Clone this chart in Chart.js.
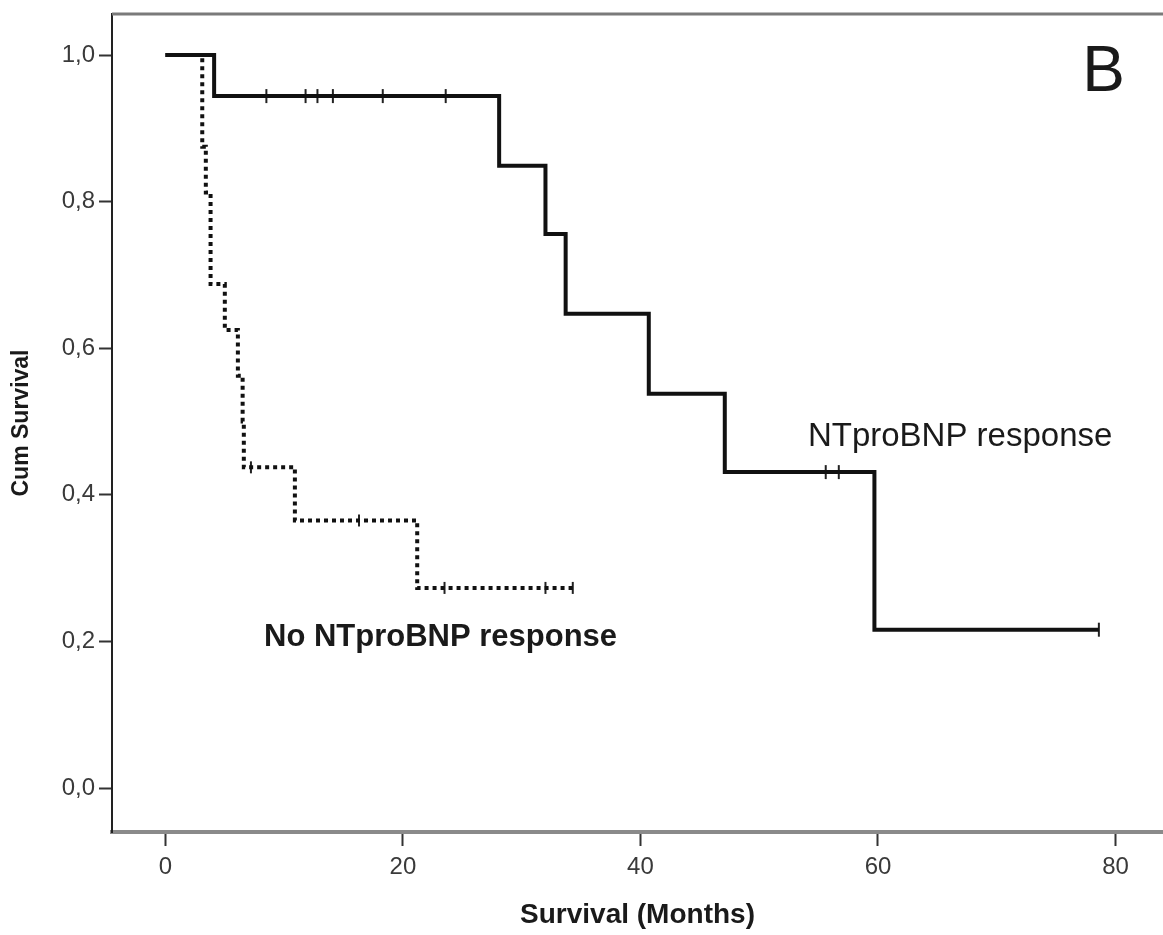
<!DOCTYPE html>
<html>
<head>
<meta charset="utf-8">
<script src="https://cdn.jsdelivr.net/npm/chart.js@4.4.1/dist/chart.umd.min.js"></script>
<style>
  html, body { margin: 0; padding: 0; background: #fff; overflow: hidden; }
  canvas { display: block; }
</style>
</head>
<body>
<canvas id="km" width="1163" height="935"></canvas>
<script>
// Kaplan-Meier, NTproBNP response (solid)
const respTimes = [0, 4.1, 28.1, 32.0, 33.7, 40.7, 47.1, 59.7, 78.6];
const respSurv  = [1.0, 0.944, 0.849, 0.756, 0.647, 0.538, 0.431, 0.216, 0.216];
const respCensor = [8.5, 11.8, 12.8, 14.1, 18.3, 23.6, 55.6, 56.7, 78.6];

// No NTproBNP response (dotted)
const noTimes = [0, 3.1, 3.4, 3.8, 5.0, 6.1, 6.5, 6.6, 10.9, 21.2, 34.3];
const noSurv  = [1.0, 0.875, 0.8125, 0.6875, 0.625, 0.5625, 0.5, 0.4375, 0.365, 0.273, 0.273];
const noCensor = [7.2, 16.3, 23.5, 32.0, 34.3];

const xTicks = [0, 20, 40, 60, 80];
const yTicks = [0, 0.2, 0.4, 0.6, 0.8, 1.0];

const notes = [
  { text: 'NTproBNP response', x: 54.1, y: 0.479, font: '33px "Liberation Sans", Arial, sans-serif' },
  { text: 'No NTproBNP response', x: 8.3, y: 0.206, font: 'bold 31px "Liberation Sans", Arial, sans-serif' },
  { text: 'B', x: 79.0, y: 0.975, font: '64px "Liberation Sans", Arial, sans-serif', center: true }
];

function survAt(times, surv, t) {
  let v = surv[0];
  for (let i = 0; i < times.length; i++) if (times[i] <= t) v = surv[i];
  return v;
}
function pts(times, surv) { return times.map((t, i) => ({ x: t, y: surv[i] })); }
function censorPts(c, times, surv) { return c.map(t => ({ x: t, y: survAt(times, surv, t) })); }

function noPad(s) {
  s.paddingLeft = 0; s.paddingRight = 0; s.paddingTop = 0; s.paddingBottom = 0;
}

const frame = {
  id: 'frame',
  afterDraw(chart) {
    const a = chart.chartArea, ctx = chart.ctx;
    ctx.save();
    ctx.strokeStyle = '#7a7a7a';
    ctx.lineWidth = 3;
    ctx.beginPath();
    ctx.moveTo(a.left, a.top);
    ctx.lineTo(chart.width, a.top);
    ctx.stroke();
    ctx.restore();
  }
};

const textNotes = {
  id: 'textNotes',
  afterDatasetsDraw(chart) {
    const ctx = chart.ctx, xs = chart.scales.x, ys = chart.scales.y;
    ctx.save();
    ctx.fillStyle = '#1a1a1a';
    ctx.textBaseline = 'middle';
    notes.forEach(n => {
      ctx.font = n.font;
      ctx.textAlign = n.center ? 'center' : 'left';
      ctx.fillText(n.text, xs.getPixelForValue(n.x), ys.getPixelForValue(n.y));
    });
    ctx.restore();
  }
};

const tickFont = { family: '"Liberation Sans", Arial, sans-serif', size: 24 };

new Chart(document.getElementById('km'), {
  type: 'line',
  data: {
    datasets: [
      {
        label: 'NTproBNP response',
        data: pts(respTimes, respSurv),
        stepped: 'before',
        borderColor: '#111',
        borderWidth: 4,
        pointRadius: 0,
        fill: false
      },
      {
        label: 'No NTproBNP response',
        data: pts(noTimes, noSurv),
        stepped: 'before',
        borderColor: '#111',
        borderWidth: 4,
        borderDash: [4, 4],
        borderCapStyle: 'butt',
        pointRadius: 0,
        fill: false
      },
      {
        label: 'censored response',
        type: 'scatter',
        data: censorPts(respCensor, respTimes, respSurv),
        pointStyle: 'line',
        rotation: 90,
        pointRadius: 7,
        borderColor: '#222',
        borderWidth: 2,
        showLine: false
      },
      {
        label: 'censored no response',
        type: 'scatter',
        data: censorPts(noCensor, noTimes, noSurv),
        pointStyle: 'line',
        rotation: 90,
        pointRadius: 6,
        borderColor: '#222',
        borderWidth: 2,
        showLine: false
      }
    ]
  },
  options: {
    responsive: false,
    animation: false,
    layout: { autoPadding: false, padding: { top: 14, right: 0, left: 0, bottom: 0 } },
    plugins: { legend: { display: false }, tooltip: { enabled: false } },
    scales: {
      x: {
        type: 'linear',
        min: -4.5,
        max: 84,
        afterBuildTicks: s => { s.ticks = xTicks.map(v => ({ value: v })); },
        afterFit: s => { s.height = 103; noPad(s); },
        grid: { drawOnChartArea: false, drawTicks: true, tickLength: 14, tickWidth: 2, tickColor: '#333' },
        border: { display: true, color: '#8a8a8a', width: 4 },
        ticks: { color: '#3a3a3a', font: tickFont, padding: 7, maxRotation: 0 },
        title: {
          display: true,
          text: 'Survival (Months)',
          color: '#1a1a1a',
          font: { family: '"Liberation Sans", Arial, sans-serif', size: 28, weight: 'bold' },
          padding: { top: 0, bottom: 3 }
        }
      },
      y: {
        type: 'linear',
        min: -0.06,
        max: 1.056,
        afterBuildTicks: s => { s.ticks = yTicks.map(v => ({ value: v })); },
        afterFit: s => { s.width = 112; noPad(s); },
        grid: { drawOnChartArea: false, drawTicks: true, tickLength: 13, tickWidth: 2, tickColor: '#333' },
        border: { display: true, color: '#222', width: 2 },
        ticks: {
          color: '#3a3a3a',
          font: tickFont,
          padding: 4,
          callback: v => v.toFixed(1).replace('.', ',')
        },
        title: {
          display: true,
          text: 'Cum Survival',
          color: '#1a1a1a',
          font: { family: '"Liberation Sans", Arial, sans-serif', size: 23, weight: 'bold' },
          padding: { top: 8, bottom: 0 }
        }
      }
    }
  },
  plugins: [frame, textNotes]
});
</script>
</body>
</html>
